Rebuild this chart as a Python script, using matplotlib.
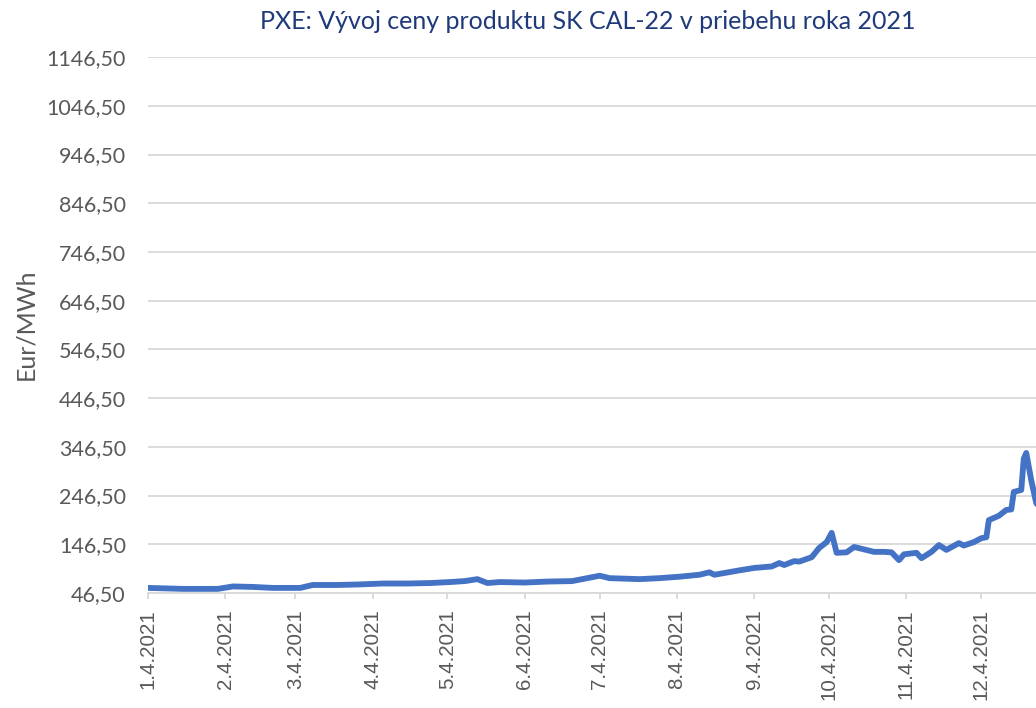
import matplotlib
matplotlib.use("Agg")
import matplotlib.pyplot as plt
import pandas as pd

# dates / values (EUR/MWh)
dates = ["2021-01-01", "2021-01-08", "2021-01-15", "2021-01-22", "2021-01-29",
         "2021-02-04", "2021-02-12", "2021-02-20", "2021-02-27", "2021-03-03",
         "2021-03-08", "2021-03-18", "2021-03-26", "2021-04-05", "2021-04-15",
         "2021-04-24", "2021-05-02", "2021-05-08", "2021-05-13", "2021-05-17",
         "2021-05-22", "2021-06-01", "2021-06-10", "2021-06-20", "2021-07-01",
         "2021-07-05", "2021-07-17", "2021-07-25", "2021-08-02", "2021-08-10",
         "2021-08-14", "2021-08-16", "2021-08-26", "2021-09-01", "2021-09-08",
         "2021-09-11", "2021-09-13", "2021-09-17", "2021-09-19", "2021-09-24",
         "2021-09-27", "2021-09-30", "2021-10-02", "2021-10-04", "2021-10-08",
         "2021-10-11", "2021-10-15", "2021-10-19", "2021-10-23", "2021-10-26",
         "2021-10-29", "2021-10-31", "2021-11-05", "2021-11-07", "2021-11-11",
         "2021-11-14", "2021-11-17", "2021-11-22", "2021-11-24", "2021-11-28",
         "2021-12-01", "2021-12-03", "2021-12-04", "2021-12-08", "2021-12-11",
         "2021-12-13", "2021-12-14", "2021-12-17", "2021-12-18", "2021-12-19",
         "2021-12-21", "2021-12-23", "2021-12-27", "2021-12-31"]
prices = [57, 56, 55, 55, 55,
          60, 59, 57, 57, 57,
          63, 63, 64, 66, 66,
          67, 69, 71, 75, 67,
          69, 68, 70, 71, 82,
          77, 75, 77, 80, 84,
          89, 84, 93, 98, 101,
          108, 104, 112, 111, 120,
          139, 151, 170, 129, 130,
          141, 136, 131, 131, 130,
          114, 126, 129, 118, 131,
          145, 135, 149, 144, 151,
          159, 161, 196, 205, 217,
          218, 254, 258, 322, 334,
          278, 231, 205, 190]

tick_dates = ["2021-01-01", "2021-02-01", "2021-03-01", "2021-04-01", "2021-05-01",
              "2021-06-01", "2021-07-01", "2021-08-01", "2021-09-01", "2021-10-01",
              "2021-11-01", "2021-12-01"]
tick_labels = ["1.4.2021", "2.4.2021", "3.4.2021", "4.4.2021", "5.4.2021", "6.4.2021",
               "7.4.2021", "8.4.2021", "9.4.2021", "10.4.2021", "11.4.2021", "12.4.2021"]
y_ticks = [46.5, 146.5, 246.5, 346.5, 446.5, 546.5, 646.5, 746.5, 846.5, 946.5,
           1046.5, 1146.5]

plt.rcParams['font.family'] = ['Lato', 'DejaVu Sans']
grey = "#595959"

fig = plt.figure(figsize=(10.36, 7.08), dpi=100)
ax = fig.add_axes([0.1429, 0.1624, 0.879, 0.757])

x = pd.to_datetime(dates)
ax.plot(x, prices, color="#4472C4", lw=4.2, solid_joinstyle="round",
        solid_capstyle="round")

ax.set_xlim(pd.Timestamp("2021-01-01"), pd.Timestamp("2022-01-01"))
ax.set_ylim(46.5, 1146.5)
ax.set_yticks(y_ticks)
ax.set_yticklabels([("%.2f" % v).replace(".", ",") for v in y_ticks])
ax.set_xticks(pd.to_datetime(tick_dates))
ax.set_xticklabels(tick_labels, rotation=90, va="top", ha="center",
                   family=["Liberation Sans", "DejaVu Sans"])

ax.grid(axis="y", color="#d9d9d9", lw=1.3)
ax.set_axisbelow(True)
for s in ["top", "right", "left"]:
    ax.spines[s].set_visible(False)
ax.spines["bottom"].set_color("#d9d9d9")
ax.spines["bottom"].set_linewidth(1.3)
ax.tick_params(axis="y", length=0, pad=16, labelsize=15.5, labelcolor=grey)
ax.tick_params(axis="x", length=4.5, width=1.3, color="#d9d9d9", pad=7,
               labelsize=14.8, labelcolor=grey)

fig.text(0.5676, 0.969, "PXE: Vývoj ceny produktu SK CAL-22 v priebehu roka 2021",
         ha="center", va="center", fontsize=18, color="#1F3A7A")
fig.text(0.025, 0.542, "Eur/MWh", rotation=90, ha="center", va="center",
         fontsize=18, color=grey)

fig.savefig("out.png", dpi=100)
